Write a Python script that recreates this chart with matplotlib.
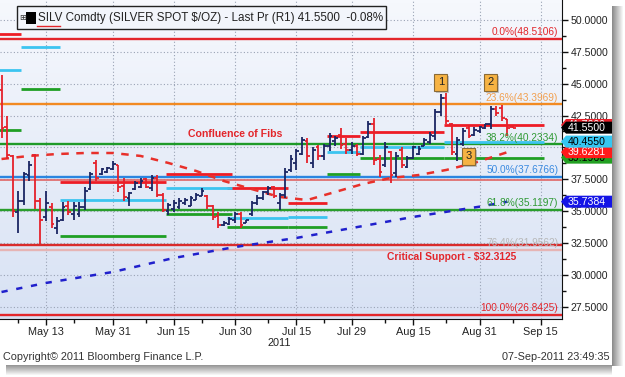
import matplotlib.pyplot as plt
import matplotlib.transforms as mtransforms
from matplotlib.patches import Polygon, Rectangle
from matplotlib.colors import LinearSegmentedColormap
import numpy as np
import pandas as pd

plt.rcParams['font.family'] = ['Liberation Sans', 'DejaVu Sans']

# daily OHLC bars, SILV Comdty
dates = ['2011-05-03', '2011-05-04', '2011-05-05', '2011-05-06', '2011-05-09', '2011-05-10',
         '2011-05-11', '2011-05-12', '2011-05-13', '2011-05-16', '2011-05-17', '2011-05-18',
         '2011-05-19', '2011-05-20', '2011-05-23', '2011-05-24', '2011-05-25', '2011-05-26',
         '2011-05-27', '2011-05-30', '2011-05-31', '2011-06-01', '2011-06-02', '2011-06-03',
         '2011-06-06', '2011-06-07', '2011-06-08', '2011-06-09', '2011-06-10', '2011-06-13',
         '2011-06-14', '2011-06-15', '2011-06-16', '2011-06-17', '2011-06-20', '2011-06-21',
         '2011-06-22', '2011-06-23', '2011-06-24', '2011-06-27', '2011-06-28', '2011-06-29',
         '2011-06-30', '2011-07-01', '2011-07-04', '2011-07-05', '2011-07-06', '2011-07-07',
         '2011-07-08', '2011-07-11', '2011-07-12', '2011-07-13', '2011-07-14', '2011-07-15',
         '2011-07-18', '2011-07-19', '2011-07-20', '2011-07-21', '2011-07-22', '2011-07-25',
         '2011-07-26', '2011-07-27', '2011-07-28', '2011-07-29', '2011-08-01', '2011-08-02',
         '2011-08-03', '2011-08-04', '2011-08-05', '2011-08-08', '2011-08-09', '2011-08-10',
         '2011-08-11', '2011-08-12', '2011-08-15', '2011-08-16', '2011-08-17', '2011-08-18',
         '2011-08-19', '2011-08-22', '2011-08-23', '2011-08-24', '2011-08-25', '2011-08-26',
         '2011-08-29', '2011-08-30', '2011-08-31', '2011-09-01', '2011-09-02', '2011-09-05',
         '2011-09-06', '2011-09-07', '2011-09-08']
opens = [44.5, 41.6, 39.3, 34.9, 35.8, 37.8, 39.4, 35.8, 34.5, 35.3, 33.7, 34.3,
         35.4, 34.8, 34.8, 35.3, 36.7, 38.8, 37.9, 38.1, 38.3, 38.6, 37.0, 36.0,
         36.7, 36.9, 37.5, 36.8, 37.6, 36.3, 35.0, 35.2, 35.3, 35.6, 35.4, 35.9,
         36.2, 36.2, 35.4, 34.6, 33.9, 34.0, 34.3, 34.8, 34.1, 34.8, 35.6, 36.0,
         36.5, 36.9, 35.6, 36.3, 38.2, 38.8, 39.5, 40.5, 38.8, 40.0, 39.3, 40.1,
         40.5, 41.0, 40.3, 39.8, 40.1, 39.5, 40.8, 41.8, 39.1, 38.6, 39.6, 38.0,
         39.8, 38.5, 39.2, 39.5, 40.1, 40.4, 40.9, 42.8, 43.9, 41.8, 39.5, 40.3,
         41.5, 41.0, 41.3, 41.5, 41.8, 43.0, 43.1, 42.2, 41.6]
highs = [45.7, 42.5, 39.4, 36.6, 38.1, 38.9, 39.5, 36.0, 36.6, 35.6, 34.5, 35.7,
         35.8, 35.7, 35.7, 36.9, 38.1, 39.0, 38.4, 38.5, 38.9, 38.6, 37.6, 36.5,
         37.4, 37.6, 37.6, 37.8, 37.8, 36.4, 35.6, 35.9, 36.0, 36.0, 36.2, 36.4,
         36.8, 36.3, 35.5, 34.9, 34.2, 34.55, 34.9, 34.9, 34.3, 35.8, 36.25, 36.6,
         37.0, 37.0, 36.4, 38.35, 39.4, 39.9, 40.8, 40.7, 40.0, 40.2, 40.3, 41.1,
         40.9, 41.5, 40.7, 40.45, 40.3, 40.9, 42.1, 42.3, 39.4, 40.45, 39.7, 39.6,
         40.06, 39.3, 40.1, 40.1, 40.7, 41.2, 43.0, 44.2, 44.3, 41.9, 40.8, 41.5,
         41.7, 41.6, 41.7, 41.85, 43.25, 43.25, 43.3, 42.2, 41.65]
lows = [40.7, 39.1, 34.5, 33.3, 35.5, 37.35, 35.2, 32.4, 34.2, 33.7, 33.2, 34.2,
        34.7, 34.3, 34.5, 35.1, 36.65, 37.35, 37.8, 38.0, 38.2, 36.5, 35.8, 35.4,
        36.65, 36.8, 36.8, 36.6, 36.1, 34.9, 34.7, 34.9, 35.2, 35.5, 35.4, 35.9,
        36.2, 35.2, 34.3, 33.7, 33.85, 33.9, 34.1, 33.7, 34.05, 34.6, 35.5, 35.9,
        36.3, 36.0, 35.1, 36.0, 38.1, 38.2, 39.4, 38.8, 38.35, 39.0, 39.0, 39.75,
        40.1, 39.9, 39.5, 39.5, 39.3, 39.4, 40.7, 38.6, 37.7, 38.5, 37.2, 37.65,
        38.35, 38.35, 39.1, 39.4, 40.1, 40.3, 40.6, 42.5, 41.8, 39.4, 38.95, 40.1,
        40.7, 40.9, 41.1, 41.45, 41.45, 42.5, 42.1, 40.9, 41.5]
closes = [41.5, 39.4, 35.0, 35.8, 37.9, 38.6, 35.8, 34.3, 35.6, 34.0, 34.2, 35.3,
          34.9, 35.4, 35.3, 36.6, 37.9, 37.6, 38.3, 38.4, 38.7, 36.9, 36.1, 36.4,
          37.2, 37.4, 36.9, 37.6, 36.3, 35.1, 35.5, 35.6, 35.8, 35.9, 36.0, 36.3,
          36.6, 35.4, 34.5, 33.9, 34.1, 34.4, 34.8, 33.9, 34.3, 35.6, 36.0, 36.5,
          36.8, 36.2, 36.3, 38.1, 39.1, 39.7, 40.6, 39.3, 39.8, 39.3, 40.1, 40.9,
          40.7, 40.2, 39.8, 40.1, 39.5, 40.7, 41.8, 39.0, 38.1, 40.0, 37.8, 39.3,
          38.6, 39.2, 40.0, 39.9, 40.6, 41.0, 42.8, 43.9, 42.1, 39.6, 40.6, 41.3,
          40.9, 41.4, 41.6, 41.8, 43.0, 42.7, 42.3, 41.55, 41.55]

# moving averages (dashed curves)
ma_red_dates = ['2011-05-03', '2011-05-10', '2011-05-17', '2011-05-24', '2011-05-31', '2011-06-07',
                '2011-06-14', '2011-06-21', '2011-06-28', '2011-07-05', '2011-07-12', '2011-07-19',
                '2011-07-26', '2011-08-02', '2011-08-09', '2011-08-16', '2011-08-23', '2011-08-30',
                '2011-09-07']
ma_red = [39.09, 39.33, 39.48, 39.56, 39.56, 39.33, 38.78, 38.15, 37.36, 36.73, 36.11, 35.87,
          36.5, 37.13, 37.6, 37.83, 38.23, 38.78, 39.6281]
ma_blue_dates = ['2011-05-03', '2011-05-13', '2011-05-31', '2011-06-15', '2011-06-30', '2011-07-15',
                 '2011-07-29', '2011-08-15', '2011-08-31', '2011-09-07']
ma_blue = [28.65, 29.36, 30.22, 31.32, 32.18, 32.89, 33.67, 34.54, 35.35, 35.7384]

# fibonacci retracement levels
fib_pcts = ['0.0%', '23.6%', '38.2%', '50.0%', '61.8%', '76.4%', '100.0%']
fib_levels = [48.5106, 43.3969, 40.2334, 37.6766, 35.1197, 31.9562, 26.8425]
fib_colors = ['#e3262b', '#f28a22', '#1f9a28', '#2b86e0', '#2a9e2c', '#e6b4b4', '#e3262b']
fib_text_colors = ['#e3262b', '#f2a050', '#2f9a35', '#3a8ae0', '#2f9a35', '#b8b8b8', '#e3262b']

critical_support = 32.3125
support_375 = 37.45

# pivot segments (red / cyan / green)
seg_start = ['2011-05-02', '2011-05-09', '2011-05-18', '2011-06-14', '2011-06-29', '2011-07-14',
             '2011-07-25', '2011-08-02', '2011-08-23']
seg_end = ['2011-05-06', '2011-05-17', '2011-06-13', '2011-06-29', '2011-07-13', '2011-07-22',
           '2011-08-01', '2011-08-22', '2011-09-15']
seg_red = [48.9, np.nan, 37.28, 37.91, 36.81, 35.64, 40.92, 41.19, 41.76]
seg_cyan = [46.08, 47.88, 35.87, 36.84, 34.46, 34.56, 39.66, 40.0, 40.455]
seg_green = [41.37, 44.58, 33.05, 34.77, 33.75, 33.78, 37.91, 39.196, 39.196]

# right axis tags (drawing order, last on top)
tag_values = [41.76, 39.196, 39.6281, 40.455, 41.55, 35.7384]
tag_colors = ['#e8202a', '#22a022', '#ff1a1a', '#35c6f2', '#000000', '#1414e6']
tag_text_colors = ['white', 'black', 'white', 'black', 'white', 'white']

# numbered callouts
ann_labels = ['1', '2', '3']
ann_dates = ['2011-08-22', '2011-09-02', '2011-08-29']
ann_prices = [45.1, 45.1, 39.3]

tick_dates = ['2011-05-13', '2011-05-31', '2011-06-15', '2011-06-30', '2011-07-15',
              '2011-07-29', '2011-08-15', '2011-08-31', '2011-09-15']
tick_labels = ['May 13', 'May 31', 'Jun 15', 'Jun 30', 'Jul 15', 'Jul 29', 'Aug 15', 'Aug 31', 'Sep 15']
minor_dates = ['2011-05-06', '2011-05-20', '2011-06-08', '2011-06-22', '2011-07-08',
               '2011-07-22', '2011-08-08', '2011-08-23', '2011-09-08']

NAVY = '#1b2663'
RED = '#e5212b'
W, H = 625.0, 377.0

days = pd.bdate_range('2011-05-02', '2011-09-30')
def xi(d):
    return days.get_loc(pd.Timestamp(d))

fig = plt.figure(figsize=(6.25, 3.77), dpi=100)
fig.patch.set_facecolor('white')

# background layer in pixel coords (shadow of the panel)
bg = fig.add_axes([0, 0, 1, 1], zorder=-5)
g = np.linspace(0.45, 0, 12)
rgba = np.zeros((1, 12, 4)); rgba[..., 3] = g
bg.imshow(rgba, extent=[612, 624, 366, 6], aspect='auto')
rgba2 = np.zeros((12, 1, 4)); rgba2[:, 0, 3] = g
bg.imshow(rgba2, extent=[6, 612, 376, 364], aspect='auto')
bg.add_patch(Rectangle((0, 0), 612, 365, facecolor='white', edgecolor='none'))
bg.set_xlim(0, W)
bg.set_ylim(H, 0)
bg.axis('off')

ax = fig.add_axes([0, 1 - 319 / H, 562 / W, 319 / H])
ax.set_facecolor('none')
cm = LinearSegmentedColormap.from_list('bb', ['#d8e2f4', '#f6f8fd'])
ax.imshow(np.linspace(0, 1, 100)[:, None], extent=[0, 1, 1, 0], transform=ax.transAxes,
          cmap=cm, aspect='auto', zorder=0)

ppd = 5.56
x_left = xi('2011-05-13') - 46 / ppd
ax.set_xlim(x_left, x_left + 562 / ppd)
ppu = 12.74
ax.set_ylim(50 - 299 / ppu, 50 + 20 / ppu)

# grid
for yv in np.arange(27.5, 51, 2.5):
    ax.axhline(yv, color='#9aa3b5', lw=0.8, ls=(0, (1, 2)), zorder=1)
for d in tick_dates:
    ax.axvline(xi(d), color='#9aa3b5', lw=0.8, ls=(0, (1, 2)), zorder=1)

# fib lines and labels
ytrans = mtransforms.blended_transform_factory(ax.transAxes, ax.transData)
for pct, lev, lc, tc in zip(fib_pcts, fib_levels, fib_colors, fib_text_colors):
    ax.axhline(lev, color=lc, lw=1.7, zorder=3)
    ax.text(0.993, lev + 0.12, f'{pct}({lev:.4f})', transform=ytrans, ha='right', va='bottom',
            color=tc, fontsize=7.3, zorder=6)
ax.axhline(critical_support, color='#d92b2b', lw=1.7, zorder=3)
ax.axhline(support_375, color='#e07070', lw=1.3, zorder=3)

# pivot segments
xs = np.array([xi(d) for d in seg_start]) - 0.5
xe = np.array([xi(d) for d in seg_end]) + 0.5
for vals, col in [(seg_red, '#ee1c25'), (seg_cyan, '#3cc4f0'), (seg_green, '#1f9f24')]:
    vals = np.array(vals)
    ok = ~np.isnan(vals)
    ax.hlines(vals[ok], xs[ok], xe[ok], colors=col, lw=2.0, zorder=4)

# moving averages
ax.plot([xi(d) for d in ma_red_dates], ma_red, color='#e8302a', lw=1.8, ls=(0, (3, 3)), zorder=4)
ax.plot([xi(d) for d in ma_blue_dates], ma_blue, color='#2020cc', lw=1.8, ls=(0, (2.5, 3.5)), zorder=4)

# OHLC bars
x = np.array([xi(d) for d in dates])
o, h, l, c = map(np.array, (opens, highs, lows, closes))
cols = np.where(c >= o, NAVY, RED)
ax.vlines(x, l, h, colors=cols, lw=1.3, zorder=5)
ax.hlines(o, x - 0.5, x, colors=cols, lw=1.3, zorder=5)
ax.hlines(c, x, x + 0.5, colors=cols, lw=1.3, zorder=5)

# callouts
for lab, d, p in zip(ann_labels, ann_dates, ann_prices):
    ax.annotate(lab, (xi(d), p), xytext=(2, -2), textcoords='offset pixels', ha='center', va='center',
                fontsize=8, color='none', zorder=7,
                bbox=dict(boxstyle='square,pad=0.3', fc='#777777', ec='none', alpha=0.4))
    ax.text(xi(d), p, lab, ha='center', va='center', fontsize=8, color='#222222', zorder=8,
            bbox=dict(boxstyle='square,pad=0.3', fc='#f6b343', ec='#8a6a35', lw=0.8))

ax.text(xi('2011-06-30'), 41.05, 'Confluence of Fibs', ha='center', va='center', color='#e3262b',
        fontsize=7.6, fontweight='bold', zorder=7)
ax.text(xi('2011-08-24'), 31.4, 'Critical Support - $32.3125', ha='center', va='center',
        color='#e3262b', fontsize=7.4, fontweight='bold', zorder=7)

# axes styling
for s in ['left', 'top']:
    ax.spines[s].set_visible(False)
ax.spines['right'].set_color('#111111')
ax.spines['bottom'].set_color('#111111')
ax.yaxis.tick_right()
ax.set_yticks(np.arange(27.5, 51, 2.5))
ax.set_yticklabels([f'{v:.4f}' for v in np.arange(27.5, 51, 2.5)])
ax.set_yticks(np.arange(28.75, 51, 2.5), minor=True)
ax.set_xticks([xi(d) for d in tick_dates])
ax.set_xticklabels(tick_labels)
ax.set_xticks([xi(d) for d in minor_dates], minor=True)
ax.tick_params(axis='both', which='major', length=4, width=1, color='#111111', labelsize=7.8,
               labelcolor='#222222', pad=2)
ax.tick_params(axis='both', which='minor', length=3, width=1, color='#111111')
ax.tick_params(axis='y', labelsize=7.6, pad=2)
ax.text(xi('2011-07-12'), -0.075, '2011',
        transform=mtransforms.blended_transform_factory(ax.transData, ax.transAxes),
        ha='center', va='center', fontsize=7.8, color='#222222')

# right-axis value tags, each one drawn above the previous
ttrans = mtransforms.blended_transform_factory(fig.transFigure, ax.transData)
hh = 6 / ppu
for i, (val, fc, tc) in enumerate(zip(tag_values, tag_colors, tag_text_colors)):
    poly = Polygon([(561 / W, val), (566 / W, val + hh), (612 / W, val + hh), (612 / W, val - hh),
                    (566 / W, val - hh)], closed=True, transform=ttrans, facecolor=fc,
                   edgecolor='none', clip_on=False, zorder=20 + 2 * i)
    ax.add_patch(poly)
    ax.text(568 / W, val, f'{val:.4f}', transform=ttrans, ha='left', va='center', color=tc,
            fontsize=7.6, clip_on=False, zorder=21 + 2 * i)

# title box
fig.patches.append(Rectangle((17 / W, 1 - 29 / H), 369 / W, 23 / H, transform=fig.transFigure,
                             facecolor='#f2f5fb', edgecolor='#222222', lw=1, zorder=30))
fig.patches.append(Rectangle((26 / W, 1 - 24 / H), 10 / W, 12 / H, transform=fig.transFigure,
                             facecolor='black', edgecolor='none', zorder=31))
fig.text(19 / W, 1 - 18 / H, '⊞', fontsize=6, va='center', ha='left', color='#333333',
         family='DejaVu Sans', zorder=31)
fig.text(38 / W, 1 - 18 / H, 'SILV Comdty (SILVER SPOT $/OZ) - Last Pr (R1) 41.5500  -0.08%',
         fontsize=8.4, va='center', ha='left', color='#222222', zorder=31)
fig.add_artist(plt.Line2D([37 / W, 60 / W], [1 - 26 / H, 1 - 26 / H], color='#e3262b', lw=1,
                          transform=fig.transFigure, zorder=31))

fig.text(3 / W, 1 - 357 / H, 'Copyright\u00a9 2011 Bloomberg Finance L.P.', fontsize=7.8,
         va='center', ha='left', color='#333333')
fig.text(610 / W, 1 - 357 / H, '07-Sep-2011 23:49:35', fontsize=7.8, va='center', ha='right',
         color='#333333')

plt.savefig('out.png', dpi=100)
